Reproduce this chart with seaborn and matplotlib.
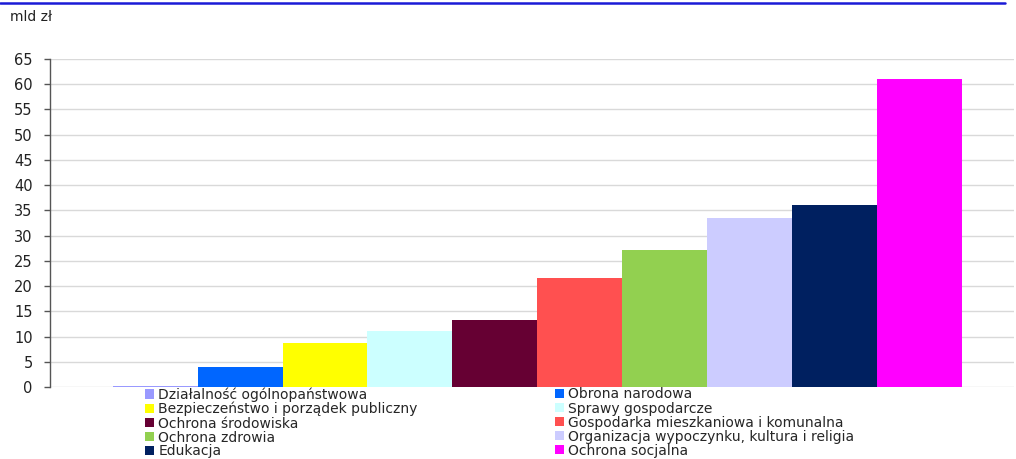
import matplotlib
matplotlib.use("Agg")
import matplotlib.pyplot as plt
import matplotlib.patches as mpatches
from matplotlib.lines import Line2D
import seaborn as sns
import pandas as pd

categories = [
    "Działalność ogólnopaństwowa",
    "Obrona narodowa",
    "Bezpieczeństwo i porządek publiczny",
    "Sprawy gospodarcze",
    "Ochrona środowiska",
    "Gospodarka mieszkaniowa i komunalna",
    "Ochrona zdrowia",
    "Organizacja wypoczynku, kultura i religia",
    "Edukacja",
    "Ochrona socjalna",
]
values = [0.2, 4.0, 8.7, 11.1, 13.3, 21.6, 27.1, 33.5, 36.0, 61.0]
colors = ["#9999FF", "#0066FF", "#FFFF00", "#CCFFFF", "#660033",
          "#FF5050", "#92D050", "#CCCCFF", "#002060", "#FF00FF"]
yticks = list(range(0, 70, 5))
unit_label = "mld zł"

sns.set_theme(style="white")
plt.rcParams["font.family"] = ["DejaVu Sans"]

df = pd.DataFrame({"grp": ["" for _ in categories], "name": categories, "val": values})

W, H = 1016, 459
fig = plt.figure(figsize=(W / 100, H / 100), dpi=100)
ax = fig.add_axes([50 / W, 1 - 387 / H, (1014 - 50) / W, (387 - 59) / H])

sns.barplot(data=df, x="grp", y="val", hue="name", hue_order=categories,
            palette=colors, width=0.88, gap=0, dodge=True, legend=False,
            linewidth=0, edgecolor="none", ax=ax, saturation=1)

ax.set_xlim(-0.505, 0.494)
ax.set_ylim(0, 65)
ax.set_yticks(yticks)
ax.set_yticklabels([str(t) for t in yticks], fontsize=10.5, color="#222222")
ax.set_xticks([])
ax.set_xlabel("")
ax.set_ylabel("")
ax.set_axisbelow(True)
ax.yaxis.grid(True, color="#d9d9d9", linewidth=1)
ax.xaxis.grid(False)
for s in ["top", "right", "bottom"]:
    ax.spines[s].set_visible(False)
ax.spines["left"].set_color("#555555")
ax.spines["left"].set_linewidth(1)
ax.tick_params(axis="y", left=True, length=4.5, width=1, color="#555555", pad=8)

fig.text(10 / W, 1 - 17 / H, unit_label, fontsize=10, va="center", ha="left", color="#222222")

fig.add_artist(Line2D([0, 1005 / W], [1 - 3 / H, 1 - 3 / H], color="#1a1ad6",
                      linewidth=1.8, transform=fig.transFigure))

handles = [mpatches.Patch(facecolor=c, edgecolor="none", label=n) for c, n in zip(colors, categories)]
common = dict(loc="upper left", frameon=False, fontsize=10, handlelength=0.65,
              handleheight=0.65, handletextpad=0.3, labelspacing=0.0, borderpad=0,
              borderaxespad=0)
leg1 = fig.legend(handles=handles[0::2], bbox_to_anchor=(145 / W, 1 - 387.5 / H), **common)
leg2 = fig.legend(handles=handles[1::2], bbox_to_anchor=(555 / W, 1 - 387.5 / H), **common)

fig.savefig("out.png", dpi=100)
